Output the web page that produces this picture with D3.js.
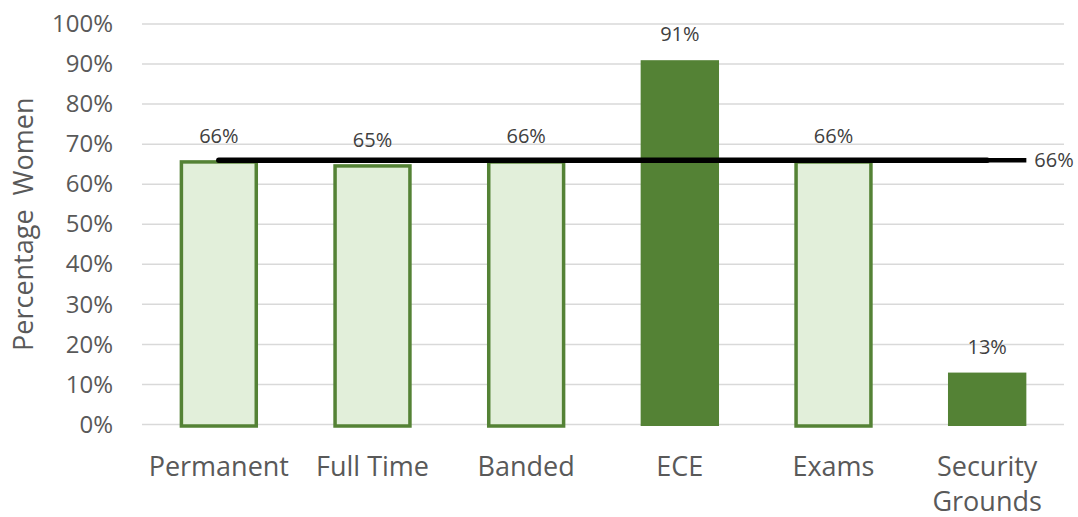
<!DOCTYPE html>
<html>
<head>
<meta charset="utf-8">
<script src="https://cdn.jsdelivr.net/npm/d3@7"></script>
<style>
  body { margin: 0; background: #fff; }
  text { font-family: 'Open Sans', 'Noto Sans', sans-serif; }
</style>
</head>
<body>
<div class="chart"></div>
<script>
// data
const categories = ['Permanent', 'Full Time', 'Banded', 'ECE', 'Exams', 'Security Grounds']
const values = [0.66, 0.65, 0.66, 0.914, 0.66, 0.134]
const highlighted = [false, false, false, true, false, true]
const averageLine = 0.66
const yTicks = [0, 0.1, 0.2, 0.3, 0.4, 0.5, 0.6, 0.7, 0.8, 0.9, 1.0]

const width = 1078
const height = 517
const margin = { top: 24, right: 14, bottom: 92.5, left: 142 }
const chartW = width - margin.left - margin.right
const chartH = height - margin.top - margin.bottom

const svg = d3.select('.chart').append('svg')
  .attr('width', width).attr('height', height)

const g = svg.append('g')
  .attr('transform', `translate(${margin.left}, ${margin.top})`)

const x = d3.scaleBand().domain(categories).range([0, chartW])
  .paddingInner(0.49).paddingOuter(0.245)
const y = d3.scaleLinear([0, 1], [chartH, 0])

// gridlines
g.append('g').selectAll('line').data(yTicks).join('line')
  .attr('x1', 0).attr('x2', chartW)
  .attr('y1', d => y(d)).attr('y2', d => y(d))
  .attr('stroke', '#d9d9d9').attr('stroke-width', 1.5)

// y axis labels
const yAxis = d3.axisLeft(y).tickValues(yTicks).tickFormat(d3.format('.0%')).tickSize(0)
const yAxisDraw = g.append('g').call(yAxis)
yAxisDraw.select('.domain').remove()
yAxisDraw.selectAll('text')
  .attr('x', -29).attr('fill', '#595959')
  .style('font-size', '24px')

// y title
svg.append('text')
  .attr('transform', `translate(33, ${margin.top + chartH / 2}) rotate(-90)`)
  .attr('text-anchor', 'middle')
  .attr('fill', '#595959').style('font-size', '27px')
  .attr('xml:space', 'preserve')
  .text('Percentage  Women')

// bars
const sw = 3.5
g.append('g').selectAll('rect').data(values).join('rect')
  .attr('x', (d, i) => x(categories[i]) + (highlighted[i] ? 0 : sw / 2))
  .attr('y', d => y(d) + sw / 2)
  .attr('width', (d, i) => x.bandwidth() - (highlighted[i] ? 0 : sw))
  .attr('height', d => chartH - y(d) - sw / 2 + 1.5)
  .attr('fill', (d, i) => highlighted[i] ? '#548235' : '#e2efda')
  .attr('stroke', (d, i) => highlighted[i] ? 'none' : '#548235')
  .attr('stroke-width', sw)

// bar labels
g.append('g').selectAll('text').data(values).join('text')
  .attr('x', (d, i) => x(categories[i]) + x.bandwidth() / 2)
  .attr('y', d => y(d) - 17)
  .attr('text-anchor', 'middle')
  .attr('fill', '#404040').style('font-size', '20px')
  .text(d => d3.format('.0%')(d))

// average line
const firstC = x(categories[0]) + x.bandwidth() / 2
const lastC = x(categories[categories.length - 1]) + x.bandwidth() / 2
g.append('line')
  .attr('x1', firstC).attr('x2', lastC)
  .attr('y1', y(averageLine)).attr('y2', y(averageLine))
  .attr('stroke', '#000').attr('stroke-width', 5.5).attr('stroke-linecap', 'round')
g.append('line')
  .attr('x1', lastC).attr('x2', lastC + x.bandwidth() / 2)
  .attr('y1', y(averageLine)).attr('y2', y(averageLine))
  .attr('stroke', '#000').attr('stroke-width', 4.5)
g.append('text')
  .attr('x', lastC + x.bandwidth() / 2 + 8)
  .attr('y', y(averageLine))
  .attr('dy', '0.35em')
  .attr('fill', '#404040').style('font-size', '20px')
  .text(d3.format('.0%')(averageLine))

// x labels
const xl = g.append('g').selectAll('text').data(categories).join('text')
  .attr('x', d => x(d) + x.bandwidth() / 2)
  .attr('y', chartH + 51)
  .attr('text-anchor', 'middle')
  .attr('fill', '#595959').style('font-size', '27px')
xl.each(function (d) {
  const words = d === 'Security Grounds' ? ['Security', 'Grounds'] : [d]
  const t = d3.select(this)
  words.forEach((w, i) => {
    t.append('tspan').attr('x', x(d) + x.bandwidth() / 2)
      .attr('dy', i === 0 ? 0 : 35).text(w)
  })
})
</script>
</body>
</html>
